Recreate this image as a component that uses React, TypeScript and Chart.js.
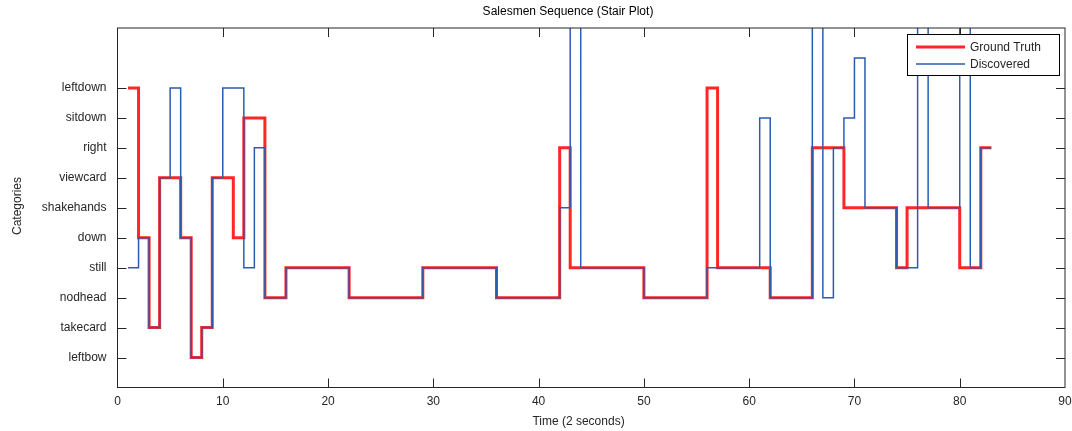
import React, { useEffect, useRef } from "react";
import { Chart, registerables } from "chart.js";

Chart.register(...registerables);

// Category labels (index 1..10 on the y axis)
const categories = [
  "leftbow",
  "takecard",
  "nodhead",
  "still",
  "down",
  "shakehands",
  "viewcard",
  "right",
  "sitdown",
  "leftdown",
];

// Ground truth: time where each stair step starts, and its category index
const truthTimes = [1, 2, 3, 4, 6, 7, 8, 9, 11, 12, 14, 16, 22, 29, 36, 42, 43, 50, 56, 57, 62, 66, 69, 74, 75, 80, 82, 83];
const truthValues = [10, 5, 2, 7, 5, 1, 2, 7, 5, 9, 3, 4, 3, 4, 3, 8, 4, 3, 10, 4, 3, 8, 6, 4, 6, 4, 8, 8];

// Discovered: step start times and state indices (values above 12 run off the top)
const discTimes = [1, 2, 3, 4, 5, 6, 7, 8, 9, 10, 12, 13, 14, 16, 22, 29, 36, 42, 43, 44, 50, 56, 61, 62, 66, 67, 68, 69, 70, 71, 74, 76, 77, 80, 81, 82, 83];
const discValues = [4, 5, 2, 7, 10, 5, 1, 2, 7, 10, 4, 8, 3, 4, 3, 4, 3, 6, 13, 4, 3, 4, 9, 3, 13, 3, 8, 9, 11, 6, 4, 13, 6, 13, 4, 8, 8];

const xTickValues = [0, 10, 20, 30, 40, 50, 60, 70, 80, 90];

const titleText = "Salesmen Sequence (Stair Plot)";
const xTitle = "Time (2 seconds)";
const yTitle = "Categories";
const seriesNames = ["Ground Truth", "Discovered"];

const RED = "#ff2626";
const BLUE = "#2c5cb0";
const AXIS = "#262626";
const FONT = "'Liberation Sans', Arial, Helvetica, sans-serif";

const framePlugin = {
  id: "matlabFrame",
  afterDatasetsDraw(chart: any) {
    const { ctx, chartArea, scales } = chart;
    const { left, right, top, bottom } = chartArea;
    const xs = scales.x;
    const ys = scales.y;
    const tl = 9;
    ctx.save();
    ctx.strokeStyle = AXIS;
    ctx.lineWidth = 1;
    ctx.beginPath();
    // inward ticks on x (bottom & top)
    xTickValues.forEach((v) => {
      if (v === 0 || v === 90) return;
      const px = Math.round(xs.getPixelForValue(v)) + 0.5;
      ctx.moveTo(px, bottom);
      ctx.lineTo(px, bottom - tl);
      ctx.moveTo(px, top);
      ctx.lineTo(px, top + tl);
    });
    // inward ticks on y (left & right)
    categories.forEach((_, i) => {
      const py = Math.round(ys.getPixelForValue(i + 1)) + 0.5;
      ctx.moveTo(left, py);
      ctx.lineTo(left + tl, py);
      ctx.moveTo(right, py);
      ctx.lineTo(right - tl, py);
    });
    ctx.stroke();
    // box
    ctx.strokeRect(left, top, right - left, bottom - top);

    // legend
    const lx = 907.5, ly = 34.5, lw = 152, lh = 41;
    ctx.fillStyle = "#ffffff";
    ctx.fillRect(lx, ly, lw, lh);
    ctx.strokeStyle = "#000000";
    ctx.lineWidth = 1;
    ctx.strokeRect(lx, ly, lw, lh);
    ctx.lineCap = "butt";
    ctx.strokeStyle = RED;
    ctx.lineWidth = 3;
    ctx.beginPath();
    ctx.moveTo(916, 47);
    ctx.lineTo(965, 47);
    ctx.stroke();
    ctx.strokeStyle = BLUE;
    ctx.lineWidth = 1.5;
    ctx.beginPath();
    ctx.moveTo(916, 64);
    ctx.lineTo(965, 64);
    ctx.stroke();
    ctx.fillStyle = AXIS;
    ctx.font = `12px ${FONT}`;
    ctx.textAlign = "left";
    ctx.textBaseline = "middle";
    ctx.fillText(seriesNames[0], 970, 47.5);
    ctx.fillText(seriesNames[1], 970, 64.5);
    ctx.restore();
  },
  afterDraw(chart: any) {
    const { ctx } = chart;
    ctx.save();
    ctx.fillStyle = "#000000";
    ctx.font = `12px ${FONT}`;
    ctx.textAlign = "center";
    ctx.textBaseline = "middle";
    ctx.fillText(titleText, 568, 12);
    ctx.fillStyle = AXIS;
    ctx.textBaseline = "alphabetic";
    ctx.fillText(xTitle, 578.5, 425);
    ctx.translate(20.5, 206);
    ctx.rotate(-Math.PI / 2);
    ctx.fillText(yTitle, 0, 0);
    ctx.restore();
  },
};

export default function App() {
  const canvasRef = useRef<HTMLCanvasElement | null>(null);

  useEffect(() => {
    if (!canvasRef.current) return;
    const chart = new Chart(canvasRef.current, {
      type: "line",
      data: {
        datasets: [
          {
            label: seriesNames[0],
            data: truthTimes.map((t, i) => ({ x: t, y: truthValues[i] })),
            borderColor: RED,
            backgroundColor: RED,
            borderWidth: 3,
            stepped: "before",
            pointRadius: 0,
            fill: false,
            borderJoinStyle: "miter",
            borderCapStyle: "butt",
            order: 2,
          },
          {
            label: seriesNames[1],
            data: discTimes.map((t, i) => ({ x: t, y: discValues[i] })),
            borderColor: BLUE,
            backgroundColor: BLUE,
            borderWidth: 1.5,
            stepped: "before",
            pointRadius: 0,
            fill: false,
            borderJoinStyle: "miter",
            borderCapStyle: "butt",
            order: 1,
          },
        ],
      },
      options: {
        responsive: false,
        animation: false,
        devicePixelRatio: 1,
        layout: { padding: { top: 28, right: 7, bottom: 0, left: 0 } },
        plugins: {
          legend: { display: false },
          title: { display: false },
          tooltip: { enabled: false },
        },
        scales: {
          x: {
            type: "linear",
            min: 0,
            max: 90,
            afterBuildTicks: (s: any) => {
              s.ticks = xTickValues.map((v) => ({ value: v }));
            },
            ticks: {
              color: AXIS,
              font: { family: FONT, size: 12 },
              padding: 7,
              maxRotation: 0,
              autoSkip: false,
            },
            grid: { display: false, drawTicks: false },
            border: { display: false },
            afterFit: (s: any) => {
              s.height = 43.5;
              s.paddingLeft = 0;
              s.paddingRight = 0;
            },
          },
          y: {
            type: "linear",
            min: 0,
            max: 12,
            afterBuildTicks: (s: any) => {
              s.ticks = categories.map((_, i) => ({ value: i + 1 }));
            },
            ticks: {
              color: AXIS,
              font: { family: FONT, size: 12 },
              padding: 11,
              autoSkip: false,
              callback: (v: any) => categories[Number(v) - 1] ?? "",
            },
            grid: { display: false, drawTicks: false },
            border: { display: false },
            afterFit: (s: any) => {
              s.width = 117.5;
              s.paddingTop = 0;
              s.paddingBottom = 0;
            },
          },
        },
      } as any,
      plugins: [framePlugin],
    });
    return () => chart.destroy();
  }, []);

  return (
    <div style={{ position: "fixed", left: 0, top: 0, width: 1072, height: 431, background: "#fff" }}>
      <canvas ref={canvasRef} width={1072} height={431} style={{ width: 1072, height: 431 }} />
    </div>
  );
}
